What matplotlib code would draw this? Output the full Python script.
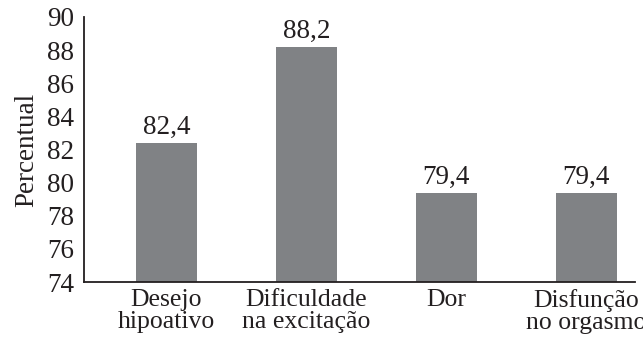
import matplotlib
matplotlib.use("Agg")
import matplotlib.pyplot as plt
import numpy as np

plt.rcParams['font.family'] = ['Liberation Serif', 'DejaVu Serif']

categories = ['Desejo\nhipoativo', 'Dificuldade\nna excitação', 'Dor', 'Disfunção\nno orgasmo']
values = [82.4, 88.2, 79.4, 79.4]
yticks = [74, 76, 78, 80, 82, 84, 86, 88, 90]

FS = 18.5
TXT = '#231f20'
BAR = '#808285'

fig = plt.figure(figsize=(6.43, 3.39), dpi=100)
ax = fig.add_axes([0.1306, 0.1681, 0.857, 0.7818])

x = np.arange(len(categories))
bars = ax.bar(x, np.array(values) - 74, bottom=74, width=0.436, color=BAR)
ax.bar_label(bars, labels=[f'{v:.1f}'.replace('.', ',') for v in values],
             padding=2, fontsize=19.5, color=TXT)

ax.set_xlim(-0.589, 3.35)
ax.set_ylim(74, 90)
ax.set_yticks(yticks)
ax.set_xticks(x)
ax.set_xticklabels(categories, fontsize=FS, color=TXT, linespacing=1.02)
ax.tick_params(axis='y', length=0, pad=7, labelsize=19.5, labelcolor=TXT)
ax.tick_params(axis='x', length=0, pad=5)
ax.set_ylabel('Percentual', fontsize=19.5, color=TXT, labelpad=6)

for s in ['top', 'right']:
    ax.spines[s].set_visible(False)
for s in ['left', 'bottom']:
    ax.spines[s].set_linewidth(1.3)
    ax.spines[s].set_color(TXT)

fig.savefig('out.png', dpi=100)
